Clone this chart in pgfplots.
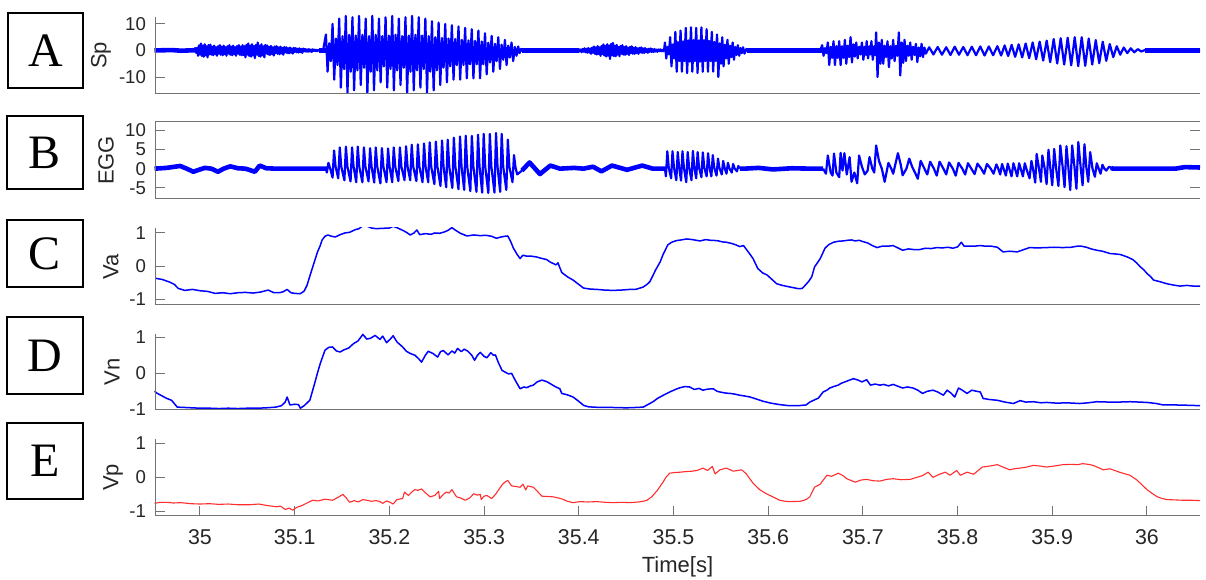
\documentclass[border=0pt]{standalone}
\usepackage{fontspec}
\setmainfont{Liberation Sans}
\newfontfamily\lettfont{Liberation Serif}
\usepackage{pgfplots}
\pgfplotsset{compat=1.18}
\definecolor{axgray}{RGB}{115,115,115}
\definecolor{txtgray}{RGB}{38,38,38}
\definecolor{mblue}{RGB}{0,0,255}
\definecolor{mred}{RGB}{255,45,45}
\pgfplotsset{
  panel/.style={
    anchor=south west, scale only axis, width=522.5pt, height=38.5pt,
    xmin=-47.5, xmax=1056, axis line style={draw=none},
    tick align=inside, major tick length=5pt,
    tick style={draw=axgray, line width=0.5pt},
    xtick=\empty, ytick pos=left,
    yticklabel style={font=\fontsize{9.3}{11}\selectfont, text=txtgray, xshift=-1pt},
    every axis y label/.style={rotate=90, anchor=center, font=\fontsize{11}{13}\selectfont, text=txtgray},
  },
  wave/.style={mblue, line width=1.1pt, line join=round},
  base/.style={mblue, line width=2.3pt, line join=round},
}
\begin{document}
\begin{tikzpicture}
\useasboundingbox (0,0) rectangle (603pt,289.5pt);
% ---------------- A : Sp
\begin{axis}[panel, at={(77.5pt,242.5pt)}, ymin=-16.4, ymax=12.6,
  ytick={-10,0,10}, yticklabels={-10,0,10}, ylabel={Sp},
  ylabel style={at={(rel axis cs:-0.0517,0.5)}}, clip=false]
\addplot[base] coordinates {(-48,0) (-30,0.15) (-20,-0.1) (-5,0.1)};
\addplot[base] coordinates {(126,0) (133,0)};
\addplot[base] coordinates {(340,0) (400,0)};
\addplot[base] coordinates {(578,0) (657,0)};
\addplot[base] coordinates {(998,0) (1056,0)};
\addplot[wave] coordinates {
(-48,0) (-30,0.15) (-20,-0.1) (-6,0.1)
(-5,0.9) (-4,-0.91) (-3,1.02) (-2,-2) (-1,1.92) (0,-1.56) (1,2.6) (2,-2.08) (3,1.82) (4,-2.34) (5,2.34) (6,-1.82) (7,1.56) (8,-2.6) (9,2.08) (10,-1.44) (11,2.2) (12,-1.6) (13,1.4) (14,-1.8) (15,1.8) (16,-1.4) (17,1.2) (18,-2) (19,1.6) (20,-1.2) (21,2) (22,-1.6) (23,1.4) (24,-1.8) (25,1.8) (26,-1.4) (27,1.2) (28,-2) (29,1.6) (30,-1.2) (31,2) (32,-1.6) (33,1.4) (34,-1.8) (35,1.8) (36,-1.4) (37,1.2) (38,-2) (39,1.6) (40,-1.2) (41,2) (42,-1.6) (43,1.4) (44,-1.8) (45,1.98) (46,-1.68) (47,1.56) (48,-2.6) (49,2.08) (50,-1.56) (51,2.6) (52,-2.08) (53,1.82) (54,-2.34) (55,2.34) (56,-1.82) (57,1.56) (58,-2.9) (59,2.08) (60,-1.56) (61,3) (62,-2.08) (63,1.82) (64,-2.34) (65,2.34) (66,-1.82) (67,1.56) (68,-2.6) (69,2.08) (70,-1.14) (71,1.9) (72,-1.52) (73,1.33) (74,-1.71) (75,1.71) (76,-1.33) (77,1.14) (78,-1.9) (79,1.52) (80,-0.96) (81,1.6) (82,-1.28) (83,1.12) (84,-1.44) (85,1.44) (86,-1.12) (87,0.96) (88,-1.6) (89,1.28) (90,-0.72) (91,1.2) (92,-0.96) (93,0.84) (94,-1.08) (95,1.08) (96,-0.84) (97,0.72) (98,-1.2) (99,0.96) (100,-0.54) (101,0.9) (102,-0.72) (103,0.63) (104,-0.81) (105,0.81) (106,-0.63) (107,0.54) (108,-0.9) (109,0.72) (110,-0.33) (111,0.55) (112,-0.44) (113,0.39) (114,-0.5) (115,0.5) (116,-0.39) (117,0.33) (118,-0.55) (119,0.44) (120,-0.18) (121,0.3) (122,-0.24) (123,0.21) (124,-0.27) (125,0.15) (130,0)
(133,6) (134.75,-8) (136.5,2.7) (138.25,-4)
(140,10) (141.75,-11) (143.5,4.5) (145.25,-5.5)
(147,12) (148.75,-14) (150.5,5.4) (152.25,-7)
(154,13) (155.75,-16) (157.5,5.9) (159.25,-8)
(161,12.5) (162.75,-15) (164.5,5.6) (166.25,-7.5)
(168,13) (169.75,-13) (171.5,5.9) (173.25,-6.5)
(175,12) (176.75,-16) (178.5,5.4) (180.25,-8)
(182,13) (183.75,-15) (185.5,5.9) (187.25,-7.5)
(189,12) (190.75,-12) (192.5,5.4) (194.25,-6)
(196,12.5) (197.75,-14) (199.5,5.6) (201.25,-7)
(203,13) (204.75,-15) (206.5,5.9) (208.25,-7.5)
(210,12) (211.75,-13) (213.5,5.4) (215.25,-6.5)
(217,12.5) (218.75,-16) (220.5,5.6) (222.25,-8)
(224,13) (225.75,-15) (227.5,5.9) (229.25,-7.5)
(231,12.5) (232.75,-14) (234.5,5.6) (236.25,-7)
(238,12) (239.75,-16) (241.5,5.4) (243.25,-8)
(245,11) (246.75,-15) (248.5,5) (250.25,-7.5)
(252,10.5) (253.75,-13) (255.5,4.7) (257.25,-6.5)
(259,10) (260.75,-12) (262.5,4.5) (264.25,-6)
(266,9.5) (267.75,-11) (269.5,4.3) (271.25,-5.5)
(273,9) (274.75,-11) (276.5,4) (278.25,-5.5)
(280,8.5) (281.75,-10.5) (283.5,3.8) (285.25,-5.2)
(287,8) (288.75,-10.5) (290.5,3.6) (292.25,-5.2)
(294,7.5) (295.75,-10.5) (297.5,3.4) (299.25,-5.2)
(301,6.5) (302.75,-9) (304.5,2.9) (306.25,-4.5)
(308,5.5) (309.75,-8) (311.5,2.5) (313.25,-4)
(315,5) (316.75,-7) (318.5,2.2) (320.25,-3.5)
(322,4) (323.75,-5.5) (325.5,1.8) (327.25,-2.7)
(329,3) (330.75,-4) (332.5,1.3) (334.25,-2)
(336,1.5) (337.5,-1) (339,0.6) (341,-0.3) (344,0) (399,0)
(400,0.45) (401,-0.39) (402,0.36) (403,-0.65) (404,0.56) (405,-0.45) (406,0.8) (407,-0.68) (408,0.63) (409,-0.86) (410,0.9) (411,-0.76) (412,0.7) (413,-1.24) (414,1.06) (415,-0.84) (416,1.48) (417,-1.25) (418,1.15) (419,-1.55) (420,1.62) (421,-1.32) (422,1.18) (423,-2.04) (424,1.7) (425,-1.32) (426,2.28) (427,-1.89) (428,1.71) (429,-2.27) (430,2.34) (431,-1.96) (432,1.8) (433,-3.2) (434,2.46) (435,-1.76) (436,2.81) (437,-2.15) (438,1.79) (439,-2.19) (440,2.07) (441,-1.58) (442,1.32) (443,-2.15) (444,1.68) (445,-1.23) (446,2) (447,-1.56) (448,1.33) (449,-1.67) (450,1.62) (451,-1.23) (452,1.03) (453,-1.68) (454,1.31) (455,-0.96) (456,1.56) (457,-1.22) (458,1.04) (459,-1.3) (460,1.26) (461,-0.95) (462,0.79) (463,-1.28) (464,0.99) (465,-0.72) (466,1.16) (467,-0.9) (468,0.76) (469,-0.94) (470,0.9) (471,-0.67) (472,0.55) (473,-0.88) (474,0.67) (475,-0.48) (476,0.76) (477,-0.58) (478,0.48) (479,-0.58) (480,0.54) (481,-0.4) (482,0.32) (483,-0.51) (484,0.38) (485,-0.27) (486,0.42) (487,-0.31) (488,0.25) (489,-0.3) (490,0)
(491,3) (492.4,-3) (493.75,1.35) (495.1,-1.5)
(496.5,5) (497.9,-6) (499.25,2.25) (500.6,-3)
(502,7) (503.4,-8) (504.75,3.15) (506.1,-4)
(507.5,7.5) (508.9,-8) (510.25,3.4) (511.6,-4)
(513,8.5) (514.4,-8.5) (515.75,3.8) (517.1,-4.2)
(518.5,8.7) (519.9,-8) (521.25,3.9) (522.6,-4)
(524,8.5) (525.4,-8.5) (526.75,3.8) (528.1,-4.2)
(529.5,8.7) (530.9,-8) (532.25,3.9) (533.6,-4)
(535,8) (536.4,-8) (537.75,3.6) (539.1,-4)
(540.5,7) (541.9,-8) (543.25,3.2) (544.6,-4)
(546,6) (547.4,-10) (548.75,2.7) (550.1,-5)
(551.5,5) (552.9,-6) (554.25,2.2) (555.6,-3)
(557,4) (558.4,-5) (559.75,1.8) (561.1,-2.5)
(562.5,3) (563.9,-3.5) (565.25,1.3) (566.6,-1.7)
(568,2) (569.4,-2) (570.75,0.9) (572.1,-1)
(573.5,1.2) (575,-1.2) (577,0.6) (579,-0.4) (582,0) (655,0)
(657,2) (658.5,-2) (660,0.9) (661.5,-1)
(663,3) (664.5,-5.5) (666,1.4) (667.5,-2.8)
(669,3.5) (670.5,-5.5) (672,1.6) (673.5,-2.8)
(675,3.5) (676.5,-5.5) (678,1.6) (679.5,-2.8)
(681,4) (682.5,-5) (684,1.8) (685.5,-2.5)
(687,5) (688.5,-4.5) (690,2.3) (691.5,-2.3)
(693,3) (694.5,-3) (696,1.4) (697.5,-1.5)
(699,3) (700.5,-3.5) (702,1.4) (703.2,-1.7)
(704,3.5) (705.5,-3) (707,1.6) (708.2,-1.5)
(709,3.5) (710.5,-3.5) (712,1.6) (713,-1.7)
(714,6.8) (715.5,-10) (717,3) (718.5,-5)
(720,4) (721.5,-5) (723,1.8) (724.5,-2.5)
(726,3.5) (727.5,-6.3) (729,1.6) (730.5,-3)
(732,4) (733.5,-4) (735,1.8) (736.5,-2)
(738,6.8) (739.5,-9.4) (741,3) (742.5,-4.7)
(744,4) (745.5,-4) (747,1.8) (748.5,-2)
(750,3) (751.5,-3.5) (753,1.4) (754.5,-1.7)
(756,2.5) (757.5,-4.4) (759,1.1) (760.5,-2.2)
(762,2.5) (763.5,-2.5) (765,1.1) (766.5,-1.2)
(770,1.2) (774.5,-1.5) (779,1.3) (783.5,-1.6) (788,1.2) (792.5,-1.7) (797,1.4) (801.5,-1.6) (806,1.3) (810.5,-1.8) (815,1.4) (819.5,-1.8) (824,1.5) (828.5,-1.9) (833,1.5) (837.5,-1.8) (842,1.6)
(846,-1.9) (849.7,1.9) (853.4,-2.1) (857.1,2.1) (860.8,-2.4) (864.5,2.3) (868.2,-2.6) (871.9,2.6) (875.6,-2.9) (879.3,3) (883,-3.3) (886.7,3.3) (890.4,-3.8) (894.1,3.7) (897.8,-4.4) (901.5,4.3) (905.2,-4.9) (908.9,4.6) (912.6,-5.3) (916.3,4.8) (920,-5.6) (923.7,5) (927.4,-5.9) (931.1,5) (934.8,-5.8) (938.5,4.5) (942.2,-5.3) (945.9,3.9) (949.6,-4.8) (953.3,3.3) (957,-3.9) (960.7,2.4) (964.4,-2.5) (968.1,1.6) (971.8,-1.6) (975.5,1.1) (979.2,-1) (982.9,0.8) (986.6,-0.7) (990.3,0.5) (994,-0.4) (998,0.2) (1002,0) (1056,0)
};
\end{axis}
% ---------------- B : EGG
\begin{axis}[panel, at={(77.5pt,190pt)}, ymin=-7.85, ymax=12.07,
  ytick={-5,0,5,10}, yticklabels={-5,0,5,10}, ytick pos=both, ylabel={EGG},
  ylabel style={at={(rel axis cs:-0.0469,0.5)}}, clip=false]
\addplot[base] coordinates {(-48,0) (-35,0.2) (-21,0.7) (-14,0) (-7,-0.8) (0,-0.2) (5,0.2) (12,0) (19,-0.8) (25,0) (32,0.6) (40,0.1) (48,0) (58,-0.8) (63,0.8) (70,0.1) (80,0) (134,0)};
\addplot[base] coordinates {(340,-0.5) (348,1.6) (359,-1.4) (370,0.8) (380,0) (395,0.2) (405,0) (415,0.5) (424,-0.7) (435,0.8) (451,-0.3) (467,0.8) (478,0) (492,0)};
\addplot[base] coordinates {(570,0) (575,0) (590,0.2) (605,-0.2) (625,0.1) (645,0) (658,0)};
\addplot[base] coordinates {(962,0.2) (964,0) (1030,0) (1040,0.4) (1056,0.3)};
\addplot[wave] coordinates {
(133,0)
(134,-1) (135.6,1.5) (137.2,0.3)
(140,-2.3) (141.6,4.7) (143.2,0.5)
(146,-2.5) (147.6,5.5) (149.2,0.5)
(152.5,-3) (154.1,5.7) (155.7,0.5)
(159,-3.3) (160.6,5.5) (162.2,0.5)
(165,-3.5) (166.6,5.7) (168.2,0.5)
(171.5,-3.5) (173.1,5.5) (174.7,0.5)
(178,-3.3) (179.6,5.3) (181.2,0.5)
(184,-3.6) (185.6,5.5) (187.2,0.5)
(190.5,-3.8) (192.1,5.3) (193.7,0.5)
(197,-3.5) (198.6,5.2) (200.2,0.5)
(203,-3.5) (204.6,5.5) (206.2,0.5)
(209.5,-3.2) (211.1,5.5) (212.7,0.5)
(216,-3) (217.6,5.8) (219.2,0.5)
(222,-3) (223.6,6.2) (225.2,0.5)
(228.5,-3.2) (230.1,6.3) (231.7,0.5)
(235,-3.5) (236.6,6.5) (238.2,0.5)
(241,-3.5) (242.6,6.8) (244.2,0.5)
(247.5,-4) (249.1,7) (250.7,0.5)
(254,-4.5) (255.6,7.3) (257.2,0.5)
(260,-4.8) (261.6,7.5) (263.2,0.5)
(266.5,-5) (268.1,8) (269.7,0.5)
(273,-5.3) (274.6,8.3) (276.2,0.5)
(279,-5.5) (280.6,8.5) (282.2,0.5)
(285.5,-5.8) (287.1,8.5) (288.7,0.5)
(292,-6) (293.6,8.8) (295.2,0.5)
(298,-6.2) (299.6,9) (301.2,0.5)
(304.5,-6.3) (306.1,9) (307.7,0.5)
(311,-6.2) (312.6,9.2) (314.2,0.5)
(317,-6) (318.6,9) (320.2,0.5)
(323.5,-5.5) (325.1,7.5) (326.7,0.5)
(330,-3.5) (331.6,3.5) (333.2,0.3)
(335,-1.5) (340,-0.5)
};
\addplot[wave] coordinates {
(491,0)
(492,-2) (493.5,4.5) (495,0.3)
(497.5,-2.5) (499,4.5) (500.5,0.3)
(503,-3) (504.5,4.3) (506,0.3)
(508,-3.1) (509.5,4.5) (511,0.3)
(513.5,-3.5) (515,4.3) (516.5,0.3)
(519,-3) (520.5,4.6) (522,0.3)
(524,-2.5) (525.5,4.3) (527,0.3)
(529.5,-2.2) (531,4.2) (532.5,0.3)
(535,-2) (536.5,4) (538,0.3)
(540,-2) (541.5,3.5) (543,0.3)
(545.5,-1.8) (547,2.6) (548.5,0.2)
(551,-1.5) (552.5,2) (554,0.2)
(556,-1.3) (557.5,1.5) (559,0.1)
(561.5,-1) (563,1.2) (564.5,0.1)
(567,-0.7) (568.5,0.7) (570,0)
};
\addplot[wave] coordinates {
(658,0) (661,-1.3) (663,3.4) (666,-1) (668,-1.8) (669.5,3.9) (672,-1) (675,-2.2) (676.5,4.1) (678.5,-0.5) (680.5,4) (683,-1.5) (686,3) (688,-3.4) (691,-1) (694,-3.8) (696,3.4) (699,0.5) (702,-1.5) (705,-0.5) (707,3) (710,0) (712,-1) (714,6) (717,2) (720,0) (723,-3.4) (727,1.5) (730,0) (732,-1.3) (737,4) (740,1) (742,-1.7) (746,0) (749,2.6) (752,0.5) (755,-1) (758,-2.6) (761,2) (765,0) (768,-1.5) (771,1.8) (775,0) (778,-1.8) (781,1.8) (785,0) (788,-1.5) (791,1.6) (795,0) (798,-1.8) (801,1.5) (805,0) (808,-1.5) (811,1.4) (815,-0.2) (818,-1.4) (821,1.3) (825,0) (828,-1.3) (831,1.2) (835,0) (838,-1.3) (841,1.1) (843,0)
(845,-1.5) (847,1.2) (849,-0.3) (851,-1.8) (853,1.3) (855,-0.3) (857,-2) (859,1.4) (861,-0.3) (863,-2) (865,1.4) (867,-0.3) (869,-2) (871,1.4) (873,-0.3) (876,-2.5) (878,2) (880,-0.5) (882,-3.6) (883.5,3.8) (886,0) (888,-3.4) (889.5,3.4) (892,0) (894,-4) (896,4.9) (898,0) (900,-4.3) (902,5.1) (904,0.2) (906.5,-4.5) (908.5,6) (911,0.3) (913,-4.8) (915,5.8) (917,0.3) (919,-5.5) (921,6) (923.5,0.3) (925.5,-5.2) (927.5,6.9) (930,0.3) (932,-4.3) (934,6.3) (936,0.3) (938,-3.4) (940,4.3) (942.5,0) (945,-2.1) (947,1.4) (949,0) (951,-1.3) (953,1) (955,0) (957,-0.5) (960,0.5) (964,0)
};
\end{axis}
% ---------------- C : Va
\begin{axis}[panel, at={(77.5pt,137pt)}, ymin=-1.17, ymax=1.15,
  ytick={-1,0,1}, yticklabels={-1,0,1}, ylabel={Va},
  ylabel style={at={(rel axis cs:-0.0421,0.5)}}]
\addplot[mblue, line width=0.75pt, line join=round] coordinates {
(-48,-0.36) (-40,-0.4) (-32,-0.48) (-27,-0.55) (-23,-0.67) (-16,-0.73) (-8,-0.7) (0,-0.74) (8,-0.76) (16,-0.82) (24,-0.8) (32,-0.83) (40,-0.8) (48,-0.79) (56,-0.81) (64,-0.78) (72,-0.72) (78,-0.8) (84,-0.8) (88,-0.77) (92,-0.7) (96,-0.8) (100,-0.82) (106,-0.83) (110,-0.75) (113,-0.58) (116,-0.3) (118,-0.12) (121,0.15) (124,0.42) (127,0.62) (129,0.79) (132,0.9) (135,0.94) (139,0.9) (143,0.88) (148,0.95) (153,1) (158,1.02) (164,1.1) (168,1.13) (172,1.22) (177,1.2) (181,1.15) (186,1.13) (193,1.14) (200,1.15) (204,1.2) (208,1.16) (214,1.08) (218,1.02) (222,0.94) (226,1) (229,1.09) (232,0.95) (238,0.98) (244,0.96) (248,1) (253,0.99) (258,1.03) (262,1.08) (266,1.16) (270,1.08) (275,0.99) (282,0.91) (289,0.94) (296,0.92) (302,0.93) (308,0.9) (313,0.84) (318,0.88) (322,0.9) (325,0.91) (328,0.75) (331,0.54) (335,0.35) (338,0.23) (341,0.33) (345,0.3) (350,0.3) (355,0.28) (360,0.24) (366,0.2) (370,0.12) (373,0.08) (376,0.04) (378,0.1) (382,-0.19) (388,-0.32) (394,-0.42) (400,-0.55) (405,-0.66) (412,-0.69) (419,-0.7) (427,-0.72) (436,-0.73) (445,-0.72) (454,-0.7) (460,-0.7) (468,-0.63) (472,-0.55) (475,-0.47) (478,-0.3) (481,-0.12) (486,0.13) (489,0.35) (494,0.64) (498,0.72) (503,0.77) (508,0.79) (514,0.82) (520,0.8) (528,0.76) (534,0.8) (539,0.78) (546,0.77) (552,0.73) (556,0.72) (562,0.68) (566,0.64) (570,0.59) (574,0.62) (579,0.43) (584,0.23) (589,-0.07) (594,-0.2) (599,-0.27) (604,-0.4) (609,-0.53) (615,-0.58) (620,-0.61) (627,-0.65) (632,-0.68) (636,-0.67) (639,-0.58) (643,-0.45) (646,-0.32) (649,-0.02) (652,0.1) (655,0.23) (660,0.54) (664,0.65) (669,0.72) (674,0.75) (679,0.76) (684,0.78) (688,0.79) (692,0.76) (696,0.78) (700,0.74) (705,0.7) (710,0.62) (715,0.56) (720,0.6) (726,0.6) (732,0.62) (737,0.55) (742,0.48) (748,0.52) (754,0.5) (760,0.5) (766,0.54) (772,0.53) (778,0.56) (784,0.55) (790,0.57) (795,0.54) (800,0.58) (804,0.72) (807,0.6) (810,0.6) (817,0.6) (824,0.62) (830,0.6) (836,0.6) (842,0.57) (845,0.5) (848,0.43) (855,0.45) (863,0.43) (870,0.5) (876,0.56) (884,0.55) (894,0.56) (902,0.57) (911,0.56) (920,0.57) (926,0.6) (931,0.6) (936,0.57) (941,0.52) (947,0.48) (953,0.45) (961,0.38) (966,0.37) (972,0.35) (979,0.28) (985,0.2) (989,0.1) (993,-0.02) (997,-0.12) (1000,-0.22) (1004,-0.32) (1007,-0.42) (1014,-0.47) (1021,-0.53) (1028,-0.57) (1035,-0.6) (1042,-0.58) (1049,-0.6) (1056,-0.6)
};
\end{axis}
% ---------------- D : Vn
\begin{axis}[panel, at={(77.5pt,84.5pt)}, height=38pt, ymin=-1.02, ymax=1.09,
  ytick={-1,0,1}, yticklabels={-1,0,1}, ylabel={Vn},
  ylabel style={at={(rel axis cs:-0.0411,0.5)}}, clip=false]
\addplot[mblue, line width=0.75pt, line join=round] coordinates {
(-48,-0.5) (-45,-0.56) (-40,-0.63) (-35,-0.7) (-30,-0.75) (-24,-0.94) (-16,-0.95) (-8,-0.96) (0,-0.97) (10,-0.97) (20,-0.98) (30,-0.97) (40,-0.98) (50,-0.97) (60,-0.97) (70,-0.96) (80,-0.94) (86,-0.9) (90,-0.8) (92,-0.66) (95,-0.88) (100,-0.86) (104,-0.87) (106,-0.97) (110,-0.9) (116,-0.75) (121,-0.29) (124,0) (127,0.27) (132,0.64) (136,0.72) (140,0.73) (144,0.62) (148,0.59) (152,0.65) (157,0.7) (162,0.82) (167,0.9) (172,1.08) (176,0.95) (180,0.97) (185,1.05) (190,0.94) (193,1.03) (197,0.85) (201,0.95) (204,1.04) (208,0.87) (211,0.8) (214,0.73) (218,0.61) (222,0.55) (227,0.5) (231,0.4) (234,0.31) (238,0.5) (241,0.61) (246,0.55) (251,0.45) (254,0.6) (257,0.63) (262,0.51) (266,0.62) (269,0.56) (272,0.69) (276,0.6) (279,0.67) (283,0.61) (287,0.5) (290,0.36) (293,0.5) (296,0.58) (300,0.47) (303,0.43) (307,0.57) (310,0.5) (312,0.51) (315,0.3) (319,0.08) (323,0.02) (326,-0.02) (329,0) (333,-0.2) (338,-0.43) (342,-0.38) (345,-0.4) (349,-0.35) (352,-0.33) (356,-0.24) (361,-0.19) (366,-0.23) (370,-0.29) (375,-0.37) (380,-0.43) (382,-0.56) (388,-0.6) (394,-0.66) (400,-0.78) (405,-0.89) (410,-0.93) (415,-0.94) (425,-0.95) (436,-0.95) (450,-0.96) (460,-0.95) (468,-0.94) (475,-0.84) (479,-0.78) (483,-0.7) (490,-0.6) (496,-0.52) (502,-0.45) (507,-0.4) (512,-0.37) (517,-0.38) (522,-0.45) (527,-0.42) (531,-0.47) (536,-0.44) (542,-0.43) (546,-0.5) (549,-0.52) (555,-0.55) (560,-0.56) (565,-0.58) (570,-0.61) (575,-0.63) (581,-0.66) (588,-0.72) (595,-0.78) (603,-0.83) (612,-0.87) (622,-0.9) (632,-0.9) (640,-0.88) (644,-0.8) (648,-0.75) (653,-0.69) (658,-0.52) (662,-0.47) (665,-0.41) (669,-0.37) (674,-0.33) (677,-0.28) (681,-0.24) (685,-0.2) (690,-0.15) (695,-0.19) (699,-0.24) (704,-0.18) (708,-0.33) (713,-0.3) (718,-0.33) (722,-0.31) (727,-0.35) (732,-0.31) (737,-0.36) (742,-0.41) (747,-0.38) (753,-0.41) (758,-0.47) (763,-0.56) (768,-0.5) (774,-0.47) (779,-0.52) (785,-0.61) (789,-0.47) (793,-0.55) (797,-0.66) (801,-0.41) (805,-0.47) (810,-0.56) (815,-0.47) (820,-0.5) (824,-0.52) (827,-0.7) (834,-0.73) (842,-0.75) (850,-0.8) (859,-0.84) (866,-0.76) (872,-0.8) (880,-0.79) (888,-0.82) (894,-0.81) (905,-0.83) (915,-0.82) (929,-0.84) (938,-0.82) (947,-0.79) (960,-0.8) (970,-0.8) (982,-0.79) (992,-0.8) (1000,-0.81) (1010,-0.84) (1017,-0.88) (1030,-0.88) (1045,-0.89) (1056,-0.9)
};
\end{axis}
% ---------------- E : Vp
\begin{axis}[panel, at={(77.5pt,31.5pt)}, ymin=-1.13, ymax=1.12,
  ytick={-1,0,1}, yticklabels={-1,0,1}, ylabel={Vp},
  ylabel style={at={(rel axis cs:-0.0402,0.5)}}, clip=false,
  xtick={0,100,200,300,400,500,600,700,800,900,1000},
  xticklabels={35,35.1,35.2,35.3,35.4,35.5,35.6,35.7,35.8,35.9,36},
  xtick pos=bottom,
  xticklabel style={font=\fontsize{10.7}{12}\selectfont, text=txtgray, yshift=-3.4pt},
  xlabel={Time[s]},
  xlabel style={at={(rel axis cs:0.5,0)}, anchor=center, yshift=-25.5pt, font=\fontsize{11}{13}\selectfont, text=txtgray}]
\addplot[mred, line width=0.55pt, line join=round] coordinates {
(-48,-0.76) (-42,-0.73) (-35,-0.73) (-28,-0.75) (-20,-0.74) (-10,-0.77) (0,-0.78) (10,-0.77) (20,-0.79) (30,-0.78) (40,-0.8) (53,-0.8) (62,-0.78) (70,-0.82) (81,-0.86) (85,-0.84) (90,-0.94) (94,-0.9) (98,-0.96) (102,-0.88) (108,-0.82) (113,-0.75) (119,-0.67) (125,-0.69) (132,-0.64) (140,-0.67) (146,-0.58) (151,-0.5) (155,-0.62) (158,-0.73) (163,-0.68) (167,-0.72) (172,-0.65) (176,-0.67) (181,-0.7) (186,-0.68) (190,-0.71) (193,-0.76) (197,-0.69) (200,-0.72) (204,-0.78) (208,-0.65) (214,-0.62) (216,-0.43) (220,-0.53) (224,-0.42) (227,-0.36) (230,-0.38) (234,-0.34) (238,-0.45) (243,-0.57) (248,-0.53) (252,-0.41) (253,-0.62) (257,-0.5) (260,-0.43) (263,-0.46) (266,-0.36) (271,-0.57) (275,-0.6) (280,-0.67) (285,-0.6) (289,-0.48) (293,-0.52) (296,-0.5) (297,-0.65) (300,-0.55) (303,-0.53) (308,-0.62) (312,-0.5) (315,-0.38) (319,-0.22) (322,-0.14) (325,-0.09) (329,-0.25) (334,-0.27) (338,-0.29) (341,-0.2) (344,-0.37) (346,-0.25) (352,-0.29) (356,-0.4) (361,-0.55) (367,-0.56) (373,-0.57) (378,-0.6) (382,-0.63) (388,-0.7) (394,-0.74) (401,-0.71) (410,-0.72) (419,-0.71) (428,-0.73) (436,-0.74) (445,-0.73) (454,-0.74) (463,-0.72) (468,-0.7) (472,-0.67) (477,-0.57) (483,-0.38) (489,-0.14) (492,0) (496,0.12) (501,0.14) (507,0.15) (514,0.17) (520,0.18) (525,0.2) (531,0.27) (536,0.2) (541,0.32) (544,0.1) (549,0.22) (556,0.27) (563,0.18) (568,0.2) (572,0.22) (577,0.1) (580,-0.02) (584,-0.17) (591,-0.36) (598,-0.48) (605,-0.57) (612,-0.67) (618,-0.7) (623,-0.71) (634,-0.7) (640,-0.65) (644,-0.57) (647,-0.4) (649,-0.29) (655,-0.2) (659,-0.05) (662,0.06) (667,0.03) (674,0.12) (679,0.05) (683,-0.04) (688,-0.1) (692,-0.14) (698,-0.08) (704,-0.06) (711,-0.1) (718,-0.11) (725,-0.06) (732,-0.04) (740,-0.07) (750,-0.06) (757,0) (763,0.05) (769,0.15) (774,0) (780,0.08) (787,0.15) (792,0.06) (799,0.2) (803,0.06) (810,0.15) (817,0.09) (826,0.3) (834,0.33) (842,0.37) (848,0.3) (855,0.22) (860,0.25) (866,0.27) (873,0.3) (880,0.35) (887,0.33) (894,0.3) (902,0.33) (911,0.37) (920,0.38) (927,0.37) (932,0.4) (938,0.38) (943,0.35) (949,0.28) (954,0.22) (961,0.25) (966,0.2) (971,0.15) (977,0.1) (982,0.06) (989,-0.07) (994,-0.2) (1000,-0.36) (1006,-0.48) (1011,-0.57) (1016,-0.62) (1021,-0.65) (1030,-0.66) (1038,-0.67) (1047,-0.67) (1056,-0.68)
};
\end{axis}
% ---------------- axis spines
\draw[axgray, line width=0.5pt] (77.5pt,281pt) -- (77.5pt,242.5pt) -- (600pt,242.5pt);
\draw[axgray, line width=0.5pt] (600pt,228.5pt) -- (77.5pt,228.5pt) -- (77.5pt,190pt) -- (600pt,190pt);
\draw[axgray, line width=0.5pt] (77.5pt,175.5pt) -- (77.5pt,137pt) -- (600pt,137pt);
\draw[axgray, line width=0.5pt] (77.5pt,122.5pt) -- (77.5pt,84.5pt) -- (600pt,84.5pt);
\draw[axgray, line width=0.5pt] (77.5pt,70pt) -- (77.5pt,31.5pt) -- (600pt,31.5pt);
% ---------------- letter boxes
\begin{scope}[line width=0.6pt]
\draw (4pt,245.5pt) rectangle (41.5pt,283pt);
\node[font=\lettfont\fontsize{24}{24}\selectfont, inner sep=0pt] at (22.75pt,264.25pt) {A};
\draw (3.5pt,195pt) rectangle (41.5pt,231.5pt);
\node[font=\lettfont\fontsize{24}{24}\selectfont, inner sep=0pt] at (22.5pt,213.25pt) {B};
\draw (3.5pt,146pt) rectangle (41.5pt,179.5pt);
\node[font=\lettfont\fontsize{24}{24}\selectfont, inner sep=0pt] at (22.5pt,162.75pt) {C};
\draw (3.5pt,92.5pt) rectangle (41.5pt,131pt);
\node[font=\lettfont\fontsize{24}{24}\selectfont, inner sep=0pt] at (22.5pt,111.75pt) {D};
\draw (3.5pt,40pt) rectangle (41.5pt,78pt);
\node[font=\lettfont\fontsize{24}{24}\selectfont, inner sep=0pt] at (22.5pt,59pt) {E};
\end{scope}
\end{tikzpicture}
\end{document}
